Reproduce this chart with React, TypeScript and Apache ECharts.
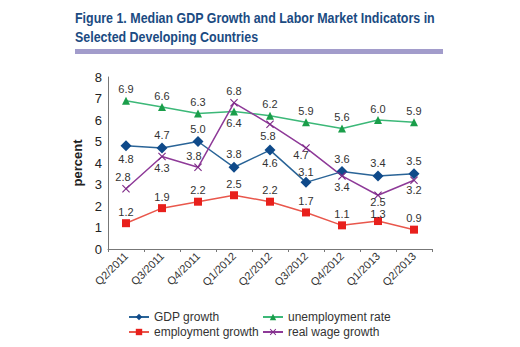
import React, { useEffect, useRef } from "react";
import * as echarts from "echarts";

const categories = ["Q2/2011", "Q3/2011", "Q4/2011", "Q1/2012", "Q2/2012", "Q3/2012", "Q4/2012", "Q1/2013", "Q2/2013"];
const gdpGrowth = [4.8, 4.7, 5.0, 3.8, 4.6, 3.1, 3.6, 3.4, 3.5];
const unemploymentRate = [6.9, 6.6, 6.3, 6.4, 6.2, 5.9, 5.6, 6.0, 5.9];
const employmentGrowth = [1.2, 1.9, 2.2, 2.5, 2.2, 1.7, 1.1, 1.3, 0.9];
const realWageGrowth = [2.8, 4.3, 3.8, 6.8, 5.8, 4.7, 3.4, 2.5, 3.2];

const gdpLabelPos = ["bottom", "top", "top", "top", "bottom", "top", "top", "top", "top"];
const unempLabelPos = ["top", "top", "top", "bottom", "top", "top", "top", "top", "top"];
const empLabelPos = ["top", "top", "top", "top", "top", "top", "top", "top", "top"];
const wageLabelPos = ["top", "bottom", "top", "top", "bottom", "bottom", "bottom", "bottom", "bottom"];

const gdpLabelShift = [[0, 0], [0, 0], [0, 0], [0, 0], [0, 0], [0, 3], [0, 0], [0, 0], [0, 0]];
const unempLabelShift = [[0, 0], [0, 0], [0, 0], [0, 0], [0, 0], [0, 0], [0, 0], [0, 0], [0, 0]];
const empLabelShift = [[0, 0], [0, 0], [0, 0], [0, 0], [0, 0], [0, 0], [0, 0], [0, 4], [0, 0]];
const wageLabelShift = [[-3, 0], [0, 0], [-4, 0], [0, 0], [-2, 0], [-5, -4], [0, 0], [0, -5], [0, -2]];

const crossPath = "path://M0,1L1,0L5,4L9,0L10,1L6,5L10,9L9,10L5,6L1,10L0,9L4,5Z";

function withLabels(values: number[], positions: string[], shifts: number[][]) {
  return values.map((v, i) => ({
    value: v,
    label: { position: positions[i] as any, offset: shifts[i] },
  }));
}

export default function App() {
  const ref = useRef<HTMLDivElement>(null);
  useEffect(() => {
    if (!ref.current) return;
    const chart = echarts.init(ref.current, null, { renderer: "svg" });
    const labelStyle = {
      show: true,
      fontSize: 11,
      color: "#333",
      fontFamily: "Liberation Sans, Arial, sans-serif",
      distance: 2,
      formatter: (p: any) => Number(p.value).toFixed(1),
    };
    const legendText = { fontSize: 12, color: "#333", fontFamily: "Liberation Sans, Arial, sans-serif" };
    const mkLegend = (name: string, left: number, top: number) => ({
      data: [name],
      left,
      top,
      itemWidth: 20,
      itemHeight: 8,
      itemGap: 4,
      padding: 0,
      textStyle: legendText,
    });
    chart.setOption({
      animation: false,
      backgroundColor: "#fff",
      graphic: [
        {
          type: "text",
          x: 75,
          y: 9,
          scaleX: 0.83,
          style: {
            text: "Figure 1. Median GDP Growth and Labor Market Indicators in\nSelected Developing Countries",
            font: "bold 15px 'Liberation Sans', Arial, sans-serif",
            fill: "#1b4b82",
            lineHeight: 19,
          },
        },
        {
          type: "rect",
          shape: { x: 75, y: 49, width: 368, height: 5 },
          style: { fill: "#a29ccb" },
        },
      ],
      legend: [
        mkLegend("GDP growth", 128, 311),
        mkLegend("unemployment rate", 262, 311),
        mkLegend("employment growth", 128, 326),
        mkLegend("real wage growth", 262, 326),
      ],
      grid: { left: 108, right: 88, top: 77, bottom: 98, containLabel: false },
      xAxis: {
        type: "category",
        data: categories,
        boundaryGap: true,
        axisLine: { lineStyle: { color: "#777", width: 1 } },
        axisTick: { show: true, length: 3, lineStyle: { color: "#777" } },
        axisLabel: {
          rotate: 45,
          fontSize: 11,
          color: "#333",
          margin: 5,
          interval: 0,
          fontFamily: "Liberation Sans, Arial, sans-serif",
        },
      },
      yAxis: {
        type: "value",
        min: 0,
        max: 8,
        interval: 1,
        name: "percent",
        nameLocation: "middle",
        nameGap: 12,
        nameTextStyle: { fontSize: 13, fontWeight: "bold", color: "#222", fontFamily: "Liberation Sans, Arial, sans-serif" },
        axisLine: { show: true, lineStyle: { color: "#777", width: 1 } },
        axisTick: { show: false },
        splitLine: { show: false },
        axisLabel: { fontSize: 13, color: "#222", margin: 6, fontFamily: "Liberation Sans, Arial, sans-serif" },
      },
      series: [
        {
          name: "GDP growth",
          type: "line",
          data: withLabels(gdpGrowth, gdpLabelPos, gdpLabelShift),
          symbol: "diamond",
          symbolSize: 11,
          lineStyle: { color: "#2a6497", width: 1.5 },
          itemStyle: { color: "#0f4a8a" },
          label: labelStyle,
        },
        {
          name: "unemployment rate",
          type: "line",
          data: withLabels(unemploymentRate, unempLabelPos, unempLabelShift),
          symbol: "triangle",
          symbolSize: 8,
          lineStyle: { color: "#3cb878", width: 1.5 },
          itemStyle: { color: "#1a9e4a" },
          label: labelStyle,
        },
        {
          name: "employment growth",
          type: "line",
          data: withLabels(employmentGrowth, empLabelPos, empLabelShift),
          symbol: "rect",
          symbolSize: 8,
          lineStyle: { color: "#e9574c", width: 1.5 },
          itemStyle: { color: "#e8201c" },
          label: labelStyle,
        },
        {
          name: "real wage growth",
          type: "line",
          data: withLabels(realWageGrowth, wageLabelPos, wageLabelShift),
          symbol: crossPath,
          symbolSize: 8,
          lineStyle: { color: "#8e3a98", width: 1.5 },
          itemStyle: { color: "#7e2a88" },
          label: labelStyle,
        },
      ],
    });
    return () => chart.dispose();
  }, []);
  return <div ref={ref} style={{ width: 520, height: 347, margin: -8 }} />;
}
